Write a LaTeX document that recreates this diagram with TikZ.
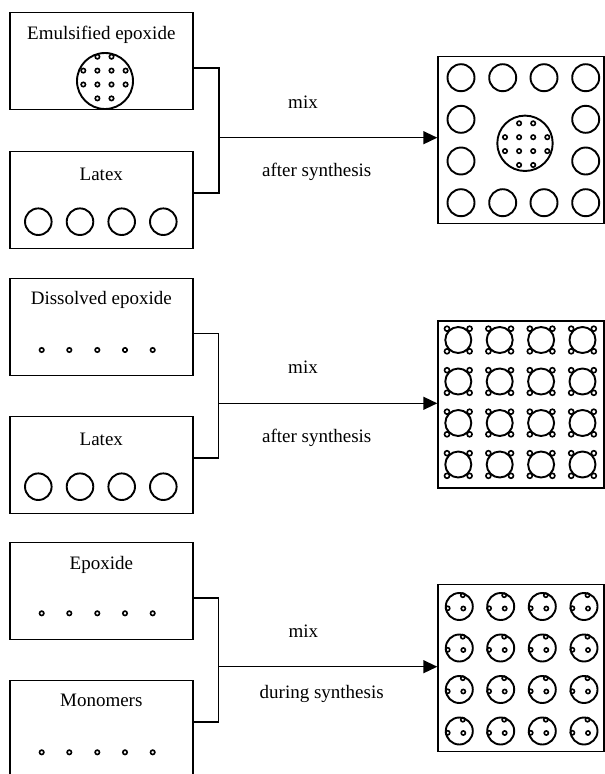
\documentclass[tikz,border=0pt]{standalone}
\usepackage{fontspec}
\setmainfont{Liberation Serif}
\usetikzlibrary{arrows.meta}
\tikzset{
  box/.style={draw,line width=1.4pt,minimum width=183pt,minimum height=97pt,inner sep=0pt},
  resbox/.style={draw,line width=1.4pt,minimum width=166pt,minimum height=167pt,inner sep=0pt},
  lbl/.style={anchor=base,inner sep=0pt,font=\fontsize{19}{22}\selectfont},
  ring/.style={line width=1.9pt},
  bead/.style={line width=1.6pt},
  link/.style={line width=1.4pt},
}
% dotted epoxide droplet: 4x4 grid without corners, first column/row at (#1,#2)
\newcommand{\beadgrid}[2]{%
  \foreach \i/\j in {1/0,2/0,0/1,1/1,2/1,3/1,0/2,1/2,2/2,3/2,1/3,2/3}{
    \draw[bead] (#1+14.1*\i,#2+13.9*\j) circle (2.2pt);}}

\begin{document}
\begin{tikzpicture}[x=1pt,y=-1pt]
  \useasboundingbox (0,0) rectangle (605,774);

  % emulsified epoxide + latex
  \node[box] (emul) at (101.3,60.9) {};
  \node[lbl] (emulT) at (101.3,39) {Emulsified epoxide};
  \draw[ring] (105,81) circle (28pt);
  \beadgrid{83.3}{56.7}
  \node[box] (latexA) at (101.3,199.9) {};
  \node[lbl] (latexAT) at (101.3,180) {Latex};
  \foreach \x in {38.3,80,121.7,163.3}{
    \draw[ring] (\x,221.7) circle (13.3pt);}
  \coordinate (jA) at (219,137.7);
  \draw[link] ([yshift=-7pt]emul.east) -| (jA) |- ([yshift=7pt]latexA.east);
  \node[resbox] (resA) at (521,139.7) {};
  \draw[link,-{Triangle[length=14pt,width=13pt]}] (jA) -- (jA -| resA.west);
  \node[lbl] (mixA) at (303,108.3) {mix};
  \node[lbl] (afterA) at (316.7,176.7) {after synthesis};
  \foreach \x/\y in {461/77.7,502.7/77.7,544/77.7,585.7/77.7,461/119.3,585.7/119.3,
                     461/161,585.7/161,461/202.7,502.7/202.7,544/202.7,585.7/202.7}{
    \draw[ring] (\x,\y) circle (13.5pt);}
  \draw[ring] (525,143.3) circle (27.7pt);
  \beadgrid{505}{123.3}

  % dissolved epoxide + latex
  \node[box] (diss) at (101.3,326.7) {};
  \node[lbl] (dissT) at (101.3,304.3) {Dissolved epoxide};
  \foreach \x in {41.7,69.3,97.3,125,152.7}{
    \draw[bead] (\x,350) circle (2.2pt);}
  \node[box] (latexB) at (101.3,465) {};
  \node[lbl] (latexBT) at (101.3,445) {Latex};
  \foreach \x in {38.3,80,121.7,163.3}{
    \draw[ring] (\x,486.7) circle (13.3pt);}
  \coordinate (jB) at (218.3,403.3);
  \draw[link] ([yshift=-7pt]diss.east) -| (jB) |- ([yshift=7pt]latexB.east);
  \node[resbox] (resB) at (521,404.5) {};
  \draw[link,-{Triangle[length=14pt,width=13pt]}] (jB) -- (jB -| resB.west);
  \node[lbl] (mixB) at (303,373.9) {mix};
  \node[lbl] (afterB) at (316.7,442.3) {after synthesis};
  \foreach \x in {458.3,499.7,541.1,582.5}{
    \foreach \y in {340,381.5,423,464.5}{
      \draw[ring] (\x,\y) circle (13pt);
      \foreach \dx/\dy in {-11.3/-11.3,11.3/-11.3,-11.3/11.3,11.3/11.3}{
        \draw[bead,fill=white] (\x+\dx,\y+\dy) circle (2.5pt);}}}

  % epoxide + monomers
  \node[box] (epox) at (101.3,590.9) {};
  \node[lbl] (epoxT) at (101.3,569) {Epoxide};
  \foreach \x in {41.7,69.3,97.3,125,152.7}{
    \draw[bead] (\x,613.3) circle (2.2pt);}
  \node[box] (mono) at (101.3,729) {};
  \node[lbl] (monoT) at (101.3,706.5) {Monomers};
  \foreach \x in {41.7,69.3,97.3,125,152.7}{
    \draw[bead] (\x,752.3) circle (2.2pt);}
  \coordinate (jC) at (218.3,666.7);
  \draw[link] ([yshift=-7pt]epox.east) -| (jC) |- ([yshift=7pt]mono.east);
  \node[resbox] (resC) at (521,668) {};
  \draw[link,-{Triangle[length=14pt,width=13pt]}] (jC) -- (jC -| resC.west);
  \node[lbl] (mixC) at (303.3,637.3) {mix};
  \node[lbl] (duringC) at (321.7,698.3) {during synthesis};
  \foreach \x in {459.3,500.7,542.3,584}{
    \foreach \y in {606.5,648,689.5,731}{
      \draw[ring] (\x,\y) circle (13.5pt);
      \foreach \dx/\dy in {3.5/-11.3,-11.6/1.8,4/2}{
        \draw[bead] (\x+\dx,\y+\dy) circle (2.1pt);}}}
\end{tikzpicture}
\end{document}
